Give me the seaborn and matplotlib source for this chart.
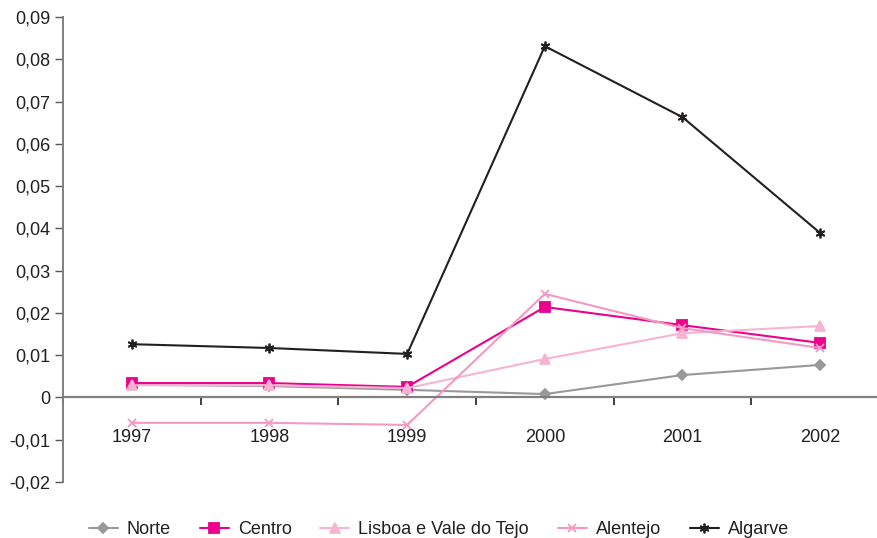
import matplotlib
matplotlib.use("Agg")
import matplotlib.pyplot as plt
import numpy as np
import pandas as pd
import seaborn as sns

# data
years = ["1997", "1998", "1999", "2000", "2001", "2002"]
regions = ["Norte", "Centro", "Lisboa e Vale do Tejo", "Alentejo", "Algarve"]
norte = [0.0030, 0.0027, 0.0018, 0.0008, 0.0053, 0.0077]
centro = [0.0034, 0.0034, 0.0025, 0.0214, 0.0171, 0.0129]
lisboa = [0.0029, 0.0029, 0.0022, 0.0091, 0.0152, 0.0169]
alentejo = [-0.0060, -0.0060, -0.0065, 0.0245, 0.0164, 0.0117]
algarve = [0.0126, 0.0117, 0.0103, 0.0831, 0.0663, 0.0389]
y_ticks = [-0.02, -0.01, 0, 0.01, 0.02, 0.03, 0.04, 0.05, 0.06, 0.07, 0.08, 0.09]

series = [norte, centro, lisboa, alentejo, algarve]
df = pd.DataFrame({
    "pos": np.tile(np.arange(len(years)), len(regions)),
    "Região": np.repeat(regions, len(years)),
    "valor": np.concatenate(series),
})

colors = {"Norte": "#999999", "Centro": "#EC008C", "Lisboa e Vale do Tejo": "#F7B4D2",
          "Alentejo": "#F49AC1", "Algarve": "#231F20"}
markers = {"Norte": "D", "Centro": "s", "Lisboa e Vale do Tejo": "^",
           "Alentejo": "x", "Algarve": (6, 2, 0)}
msize = {"Norte": 5, "Centro": 7, "Lisboa e Vale do Tejo": 7, "Alentejo": 6, "Algarve": 7}

sns.set_theme(style="white")
plt.rcParams["font.family"] = ["Liberation Sans", "DejaVu Sans"]

fig = plt.figure(figsize=(8.78, 5.38), dpi=100)
ax = fig.add_axes([63 / 878, 1 - 482 / 538, (889 - 63) / 878, (482 - 17) / 538])

for r in regions:
    sub = df[df["Região"] == r]
    sns.lineplot(data=sub, x="pos", y="valor", ax=ax, color=colors[r], marker=markers[r],
                 markersize=msize[r], markeredgecolor=colors[r], markeredgewidth=1.3,
                 linewidth=1.5, label=r, legend=False)

ax.set_xlim(-0.5, len(years) - 0.5)
ax.set_ylim(-0.02, 0.09)
ax.set_xlabel("")
ax.set_ylabel("")

ax.set_yticks(y_ticks)
ax.set_yticklabels([("%g" % v).replace(".", ",") for v in y_ticks])
ax.set_xticks(np.arange(len(years)))
ax.set_xticklabels(years)
ax.set_xticks(np.arange(len(years) + 1) - 0.5, minor=True)
ax.tick_params(axis="x", which="major", bottom=True, length=0, pad=23,
               labelsize=13, labelcolor="#231F20")
ax.tick_params(axis="x", which="minor", bottom=True, length=6, width=1.2,
               color="#231F20", direction="out")
ax.tick_params(axis="y", left=True, length=6, width=1, color="#555555", direction="out",
               pad=3, labelsize=13, labelcolor="#231F20")

for s in ["top", "right"]:
    ax.spines[s].set_visible(False)
ax.spines["bottom"].set_position(("data", 0))
ax.spines["bottom"].set_color("#808080")
ax.spines["bottom"].set_linewidth(1.6)
ax.spines["left"].set_color("#808080")
ax.spines["left"].set_linewidth(1.4)
ax.grid(False)

handles, labels = ax.get_legend_handles_labels()
fig.legend(handles, labels, loc="lower center", bbox_to_anchor=(0.5, -0.03), ncol=5,
           frameon=False, fontsize=13, handlelength=1.6, columnspacing=1.6,
           handletextpad=0.5, labelcolor="#231F20")

fig.savefig("out.png", dpi=100)
